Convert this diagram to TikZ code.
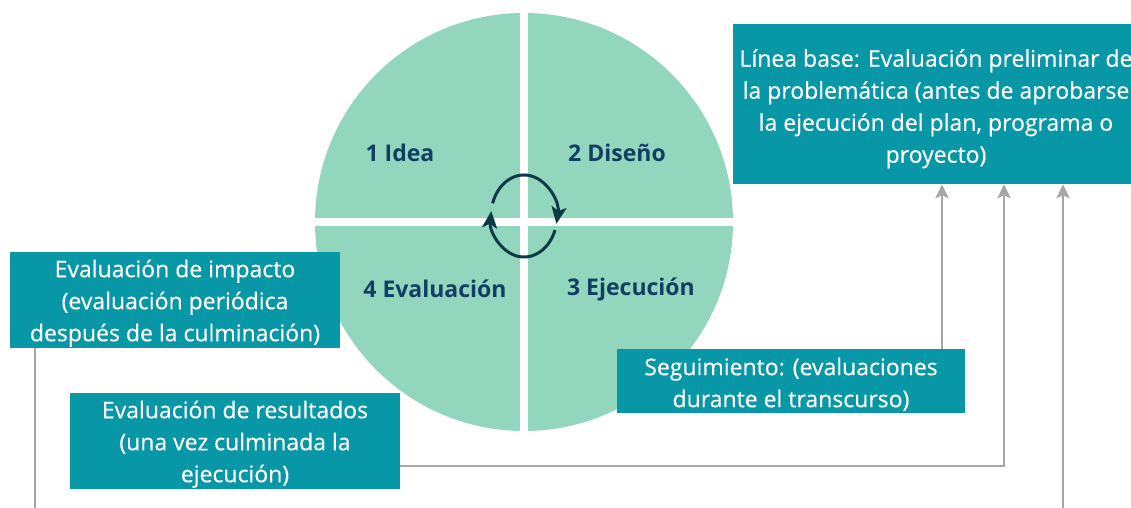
\documentclass[tikz,border=0pt]{standalone}
\usepackage{fontspec}
\setmainfont{Open Sans}
\newfontfamily\boxfont{Open Sans}[FakeBold=0.35]
\usetikzlibrary{arrows.meta}
\definecolor{mint}{HTML}{93D6BE}
\definecolor{tealbox}{HTML}{0897A6}
\definecolor{navy}{HTML}{123E63}
\definecolor{cyc}{HTML}{0E3A48}
\definecolor{conn}{HTML}{A6A6A6}
\newcommand{\topstrut}{\rule{0pt}{24pt}}
\tikzset{
  box/.style={fill=tealbox, text=white, align=center, inner sep=0pt,
    font=\boxfont\fontsize{23}{32}\selectfont},
  qlabel/.style={text=navy, font=\fontsize{23}{28}\selectfont\bfseries, inner sep=0pt},
  connline/.style={draw=conn, line width=2.5pt, -{Stealth[length=14pt,width=13pt,inset=3pt]}},
  cycarrow/.style={draw=cyc, line width=3pt, -{Stealth[length=17pt,width=15pt,inset=4pt]}}
}
\begin{document}
\begin{tikzpicture}[x=1pt,y=-1pt]
\path[use as bounding box] (0,0) rectangle (1131,508);
\clip (0,0) rectangle (1131,508);
% circle quadrants
\coordinate (cc) at (524,222);
\begin{scope}
  \clip (cc) circle[radius=209];
  \fill[mint] (300,0) rectangle (520,218);
  \fill[mint] (528,0) rectangle (750,218);
  \fill[mint] (300,226) rectangle (520,440);
  \fill[mint] (528,226) rectangle (750,440);
\end{scope}
\node[qlabel] (q1) at (400,153) {1 Idea};
\node[qlabel] (q2) at (617,153) {2 Diseño};
\node[qlabel] (q4) at (435,289) {4 Evaluación};
\node[qlabel] (q3) at (631,289) {3 Ejecución};
% cycle arrows
\coordinate (ec) at (524,216);
\draw[cycarrow] (ec) ++(198:33 and 41) arc[start angle=198, end angle=371, x radius=33, y radius=41];
\draw[cycarrow] (ec) ++(20:33 and 41) arc[start angle=20, end angle=187, x radius=33, y radius=41];
% boxes
\node[box, minimum width=330pt, minimum height=96pt] (imp) at (175,300)
  {\topstrut Evaluación de impacto\\(evaluación periódica\\después de la culminación)};
\node[box, minimum width=330pt, minimum height=96pt] (res) at (235,441)
  {\topstrut Evaluación de resultados\\(una vez culminada la\\ejecución)};
\node[box, minimum width=348pt, minimum height=64pt] (seg) at (791,381)
  {\topstrut Seguimiento: (evaluaciones\\durante el transcurso)};
\node[box, minimum width=406pt, minimum height=160pt] (lb) at (936,104)
  {\rule{0pt}{27pt}Línea base: Evaluación preliminar de\\la problemática (antes de aprobarse\\la ejecución del plan, programa o\\proyecto)};
% connectors
\coordinate (xa) at (942,0);
\coordinate (xb) at (1004,466);
\coordinate (xc) at (1063,0);
\coordinate (ya) at (0,466);
\coordinate (i1) at (35,530);
\coordinate (i2) at (1063,530);
\draw[connline] (seg.north -| xa) -- (lb.south -| xa);
\draw[connline] (res.east |- ya) -- (xb) -- (lb.south -| xb);
\draw[connline] (imp.south -| i1) -- (i1) -- (i2) -- (lb.south -| xc);
\end{tikzpicture}
\end{document}
